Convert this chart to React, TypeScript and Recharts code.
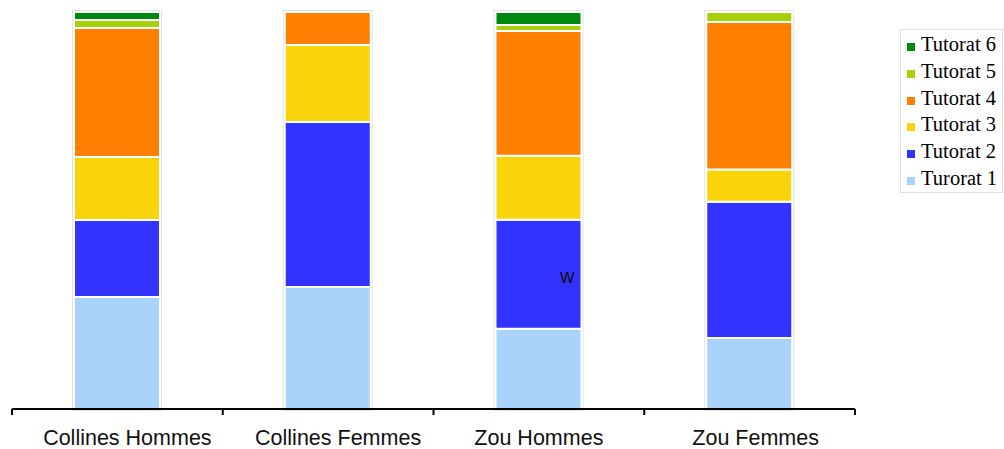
import React from "react";
import { BarChart, Bar, XAxis, YAxis } from "recharts";

const categories = ["Collines Hommes", "Collines Femmes", "Zou Hommes", "Zou Femmes"];
const seriesNames = ["Turorat 1", "Tutorat 2", "Tutorat 3", "Tutorat 4", "Tutorat 5", "Tutorat 6"];
const seriesKeys = ["t1", "t2", "t3", "t4", "t5", "t6"];
const seriesColors = ["#a9d3fa", "#3333ff", "#f9d40b", "#ff7f00", "#a6d10a", "#00890f"];

const tutorat1 = [28.2, 30.7, 20.2, 17.9];
const tutorat2 = [19.4, 41.6, 27.5, 34.3];
const tutorat3 = [15.9, 19.4, 16.1, 8.1];
const tutorat4 = [32.5, 8.3, 31.4, 37.2];
const tutorat5 = [2.0, 0, 1.5, 2.5];
const tutorat6 = [2.0, 0, 3.3, 0];

const seriesValues = [tutorat1, tutorat2, tutorat3, tutorat4, tutorat5, tutorat6];

const data = categories.map((c, i) => {
  const row: Record<string, string | number> = { name: c };
  seriesKeys.forEach((k, s) => {
    row[k] = seriesValues[s][i];
  });
  return row;
});

const W = 1004;
const H = 449;
const M = { top: 12, left: 12, right: 149, bottom: 0 };
const AXIS_H = 40;
const AXIS_Y = H - AXIS_H;
const BAND = (W - M.left - M.right) / categories.length;
const LABEL_DX = [10, 10, 0, 6];

const Tick = (props: any) => {
  const { x, payload, index } = props;
  return (
    <g>
      <line x1={x - BAND / 2} x2={x - BAND / 2} y1={AXIS_Y} y2={AXIS_Y + 6} stroke="#000" strokeWidth={2} />
      {index === categories.length - 1 && (
        <line x1={x + BAND / 2} x2={x + BAND / 2} y1={AXIS_Y} y2={AXIS_Y + 6} stroke="#000" strokeWidth={2} />
      )}
      <text
        x={x + (LABEL_DX[index] || 0)}
        y={AXIS_Y + 36}
        textAnchor="middle"
        fontFamily="'Liberation Sans', Arial, sans-serif"
        fontSize={21.5}
        fill="#111"
      >
        {payload.value}
      </text>
    </g>
  );
};

export default function App() {
  const legendOrder = [5, 4, 3, 2, 1, 0];
  return (
    <div style={{ position: "absolute", left: 0, top: 0, width: W, height: H, background: "#fff" }}>
      <BarChart width={W} height={H} data={data} margin={M} barSize={86}>
        <XAxis
          dataKey="name"
          height={AXIS_H}
          tickLine={false}
          axisLine={{ stroke: "#000", strokeWidth: 2 }}
          tick={<Tick />}
          interval={0}
        />
        <YAxis hide domain={[0, 100]} width={0} />
        {seriesKeys.map((k, s) => (
          <Bar
            key={k}
            dataKey={k}
            name={seriesNames[s]}
            stackId="a"
            fill={seriesColors[s]}
            stroke="#fff"
            strokeWidth={2}
            isAnimationActive={false}
            background={s === 0 ? { fill: "#fff", stroke: "#e4e4e4", strokeWidth: 4 } : undefined}
          />
        ))}
      </BarChart>
      <div
        style={{
          position: "absolute",
          left: 900,
          top: 29,
          width: 101,
          height: 162,
          border: "1px solid #e0e0e0",
          background: "#fff",
          fontFamily: "'Liberation Serif', 'Times New Roman', serif",
          fontSize: 20.5,
          color: "#000",
        }}
      >
        {legendOrder.map((s, i) => (
          <div
            key={s}
            style={{
              position: "absolute",
              left: 6,
              top: 1 + i * 26.8,
              height: 26,
              lineHeight: "26px",
              whiteSpace: "nowrap",
            }}
          >
            <span
              style={{
                display: "inline-block",
                width: 8,
                height: 8,
                background: seriesColors[s],
                marginRight: 6,
                verticalAlign: "baseline",
              }}
            />
            {seriesNames[s]}
          </div>
        ))}
      </div>
      <span
        style={{
          position: "absolute",
          left: 560,
          top: 264,
          fontFamily: "'Liberation Sans', Arial, sans-serif",
          fontSize: 20,
          color: "#111",
          lineHeight: "24px",
        }}
      >
        w
      </span>
    </div>
  );
}
